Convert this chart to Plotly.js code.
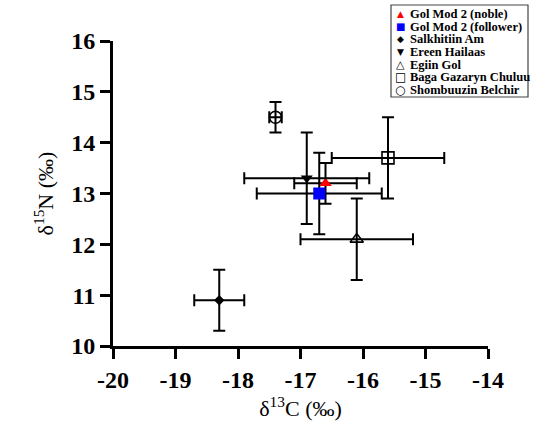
<!DOCTYPE html>
<html>
<head>
<meta charset="utf-8">
<script src="https://cdn.plot.ly/plotly-3.0.1.min.js"></script>
<style>html,body{margin:0;padding:0;background:#fff;}#chart{width:550px;height:433px;}</style>
</head>
<body>
<div id="chart"></div>
<script>
// ---- data ----
const siteNames = ['Gol Mod 2 (noble)', 'Gol Mod 2 (follower)', 'Salkhitiin Am', 'Ereen Hailaas', 'Egiin Gol', 'Baga Gazaryn Chuluu', 'Shombuuzin Belchir'];
const d13C = [-16.6, -16.7, -18.3, -16.9, -16.1, -15.6, -17.4];
const d15N = [13.2, 13.0, 10.9, 13.3, 12.1, 13.7, 14.5];
const sdC  = [0.5, 1.0, 0.4, 1.0, 0.9, 0.9, 0.1];
const sdN  = [0.4, 0.8, 0.6, 0.9, 0.8, 0.8, 0.3];
const xTickVals = [-20, -19, -18, -17, -16, -15, -14];
const xTickText = ['-20', '-19', '-18', '-17', '-16', '-15', '-14'];
const yTickVals = [10, 11, 12, 13, 14, 15, 16];
const yTickText = ['10', '11', '12', '13', '14', '15', '16'];

// ---- styles ----
const SERIF = 'Liberation Serif';
const symbols = ['triangle-up', 'square', 'diamond', 'triangle-down', 'triangle-up-open', 'square-open', 'circle-open'];
const colors  = ['#ff0000', '#0000ff', '#000000', '#000000', '#000000', '#000000', '#000000'];
const sizes   = [11, 12, 8, 10.5, 11.5, 12, 12];
const legendGlyphs = ['\u25B2', '\u25A0', '\u25C6', '\u25BC', '\u25B3', '\u25A1', '\u25CB'];
const glyphSizes = [9, 10, 9, 9, 11, 12, 12];

const W = 550, H = 433, L = 113, R = 62, T = 41, B = 87;
const PW = W - L - R, PH = H - T - B;
const xp = px => (px - L) / PW;
const yp = py => (H - B - py) / PH;

const traces = siteNames.map((name, i) => ({
  type: 'scatter', mode: 'markers', name: name,
  x: [d13C[i]], y: [d15N[i]],
  error_x: {type: 'data', array: [sdC[i]], visible: true, color: '#000', thickness: 2, width: 6},
  error_y: {type: 'data', array: [sdN[i]], visible: true, color: '#000', thickness: 2, width: 6},
  marker: {symbol: symbols[i], size: sizes[i], color: colors[i], line: {color: colors[i], width: symbols[i].endsWith('open') ? 1.6 : 0}},
  showlegend: false, cliponaxis: false
}));

// legend built from text annotations
const annotations = [];
const rowTop = 14, rowStep = 12.7;
siteNames.forEach((name, i) => {
  const cy = rowTop + rowStep * i;
  annotations.push({xref: 'paper', yref: 'paper', x: xp(400), y: yp(cy), xanchor: 'center', yanchor: 'middle',
    text: legendGlyphs[i], showarrow: false, font: {family: 'DejaVu Sans', size: glyphSizes[i], color: colors[i]}});
  annotations.push({xref: 'paper', yref: 'paper', x: xp(408), y: yp(cy), xanchor: 'left', yanchor: 'middle',
    text: name, showarrow: false, font: {family: SERIF, size: 12.5, color: '#000', weight: 'bold'}});
});

const layout = {
  width: W, height: H,
  margin: {l: L, r: R, t: T, b: B, pad: 0},
  paper_bgcolor: '#fff', plot_bgcolor: '#fff',
  showlegend: false,
  xaxis: {
    range: [-20, -14], tickmode: 'array', tickvals: xTickVals, ticktext: xTickText,
    showline: true, linecolor: '#000', linewidth: 3, ticks: 'outside', ticklen: 10, tickwidth: 3, tickcolor: '#000',
    showgrid: false, zeroline: false,
    tickfont: {family: SERIF, size: 24, color: '#000', weight: 'bold'},
    title: {text: '\u03B4<sup>13</sup>C (\u2030)', font: {family: SERIF, size: 22, color: '#000'}, standoff: 6}
  },
  yaxis: {
    range: [10, 16], tickmode: 'array', tickvals: yTickVals, ticktext: yTickText,
    showline: true, linecolor: '#000', linewidth: 3, ticks: 'outside', ticklen: 10, tickwidth: 3, tickcolor: '#000',
    showgrid: false, zeroline: false,
    tickfont: {family: SERIF, size: 24, color: '#000', weight: 'bold'},
    title: {text: '\u03B4<sup>15</sup>N (\u2030)', font: {family: SERIF, size: 22, color: '#000'}, standoff: 12}
  },
  shapes: [{type: 'rect', xref: 'paper', yref: 'paper', x0: xp(391), x1: xp(528), y0: yp(5), y1: yp(97),
    line: {color: '#444', width: 1.2}, fillcolor: 'rgba(0,0,0,0)', layer: 'above'}],
  annotations: annotations
};

Plotly.newPlot('chart', traces, layout, {displayModeBar: false, staticPlot: true});
</script>
</body>
</html>
